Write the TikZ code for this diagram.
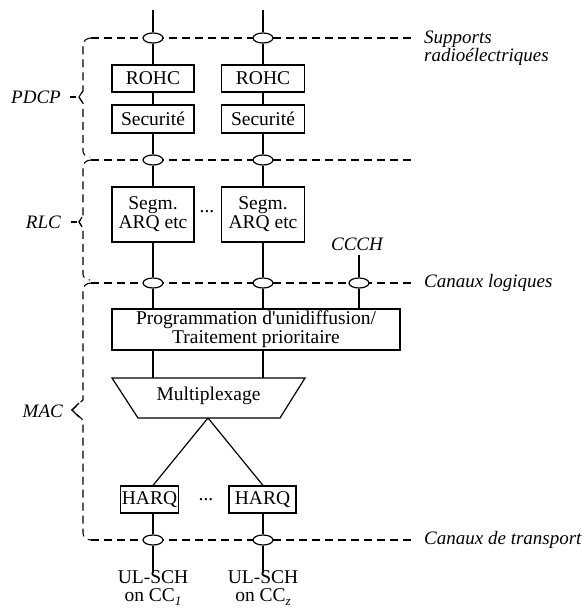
\documentclass[tikz,border=0pt]{standalone}
\usepackage{fontspec}
\setmainfont{Liberation Serif}
\usetikzlibrary{shapes.geometric}
\begin{document}
\begin{tikzpicture}[x=1pt,y=-1pt,
  ln/.style={line width=1.2pt},
  tip/.style={line width=1.1pt},
  blk/.style={draw,line width=1.2pt,fill=white,inner sep=0pt,align=center,font=\fontsize{19.5}{19}\selectfont},
  port/.style={draw,ellipse,line width=1.2pt,fill=white,minimum width=20pt,minimum height=10pt,inner sep=0pt},
  dsh/.style={line width=1.1pt,dash pattern=on 8pt off 5pt},
  lab/.style={font=\fontsize{19}{18}\selectfont\itshape,inner sep=0pt,align=left},
  txt/.style={font=\fontsize{19.5}{18}\selectfont,inner sep=0pt,align=center}]
\useasboundingbox (0,0) rectangle (581,610);

% dashed layer lines
\coordinate (d1s) at (91,38);  \coordinate (d1e) at (415,38);
\coordinate (d2s) at (91,160); \coordinate (d2e) at (415,160);
\coordinate (d3s) at (91,283); \coordinate (d3e) at (415,283);
\coordinate (d4s) at (91,540); \coordinate (d4e) at (415,540);
\draw[dsh] (d1s) -- (d1e);
\draw[dsh] (d2s) -- (d2e);
\draw[dsh] (d3s) -- (d3e);
\draw[dsh] (d4s) -- (d4e);

% braces
\draw[dsh] (d1s) to[out=180,in=90] (83,45) -- (83,91) -- (79,97) -- (83,103) -- (83,151) to[out=-90,in=180] (90,157);
\draw[dsh] (d2s) to[out=180,in=90] (83,167) -- (83,216) -- (79,222) -- (83,228) -- (83,274) to[out=-90,in=180] (90,280);
\draw[dsh] (d3s) to[out=180,in=90] (83,290) -- (83,400) -- (72,410) -- (83,420) -- (83,533) to[out=-90,in=180] (d4s);
\draw[tip] (82,92) -- (79,97) -- (82,102);
\draw[tip] (82,217) -- (79,222) -- (82,227);
\draw[tip] (79,403) -- (72,410) -- (79,417);

% left labels
\node[lab,anchor=east] (lp) at (61,97) {PDCP};
\node[lab,anchor=east] (lr) at (61,222) {RLC};
\node[lab,anchor=east] (lm) at (63,411) {MAC};
\draw[ln] ([xshift=9pt]lp.east) -- ([xshift=15pt]lp.east);
\draw[ln] ([xshift=10pt]lr.east) -- ([xshift=16pt]lr.east);

% right labels
\node[lab,anchor=west] (sr) at (424,48) {Supports\\radioélectriques};
\node[lab,anchor=west] (cl) at (424,283) {Canaux logiques};
\node[lab,anchor=west] (ct) at (424,540) {Canaux de transport};

% ports
\node[port] (e1a) at (153,38) {};
\node[port] (e1b) at (263,38) {};
\node[port] (e2a) at (153,160) {};
\node[port] (e2b) at (263,160) {};
\node[port] (e3a) at (153,283) {};
\node[port] (e3b) at (263,283) {};
\node[port] (e3c) at (359,283) {};
\node[port] (e4a) at (153,540) {};
\node[port] (e4b) at (263,540) {};

% blocks
\node[blk,minimum width=82pt,minimum height=27pt] (r1) at (153,78.5) {ROHC};
\node[blk,minimum width=83pt,minimum height=27pt] (r2) at (263,78.5) {ROHC};
\node[blk,minimum width=82pt,minimum height=28pt] (s1) at (153,119) {Securité};
\node[blk,minimum width=83pt,minimum height=28pt] (s2) at (263,119) {Securité};
\node[blk,minimum width=82pt,minimum height=55pt] (g1) at (153,214.5) {Segm.\\ARQ etc};
\node[blk,minimum width=83pt,minimum height=55pt] (g2) at (263,214.5) {Segm.\\ARQ etc};
\node[txt] (dots1) at (207,212) {...};
\node[blk,minimum width=288pt,minimum height=41pt] (p) at (256,329.5) {Programmation d\textquotesingle unidiffusion/\\Traitement prioritaire};

% multiplexer trapezoid
\coordinate (tl) at (112,378); \coordinate (tr) at (305,378);
\coordinate (br) at (280,418); \coordinate (bl) at (138,418);
\coordinate (mb) at (208,418);
\draw[ln,fill=white] (tl) -- (tr) -- (br) -- (bl) -- cycle;
\node[txt] (mx) at (208.5,396) {Multiplexage};

\node[blk,minimum width=58pt,minimum height=27pt] (h1) at (149.5,499.5) {HARQ};
\node[blk,minimum width=67pt,minimum height=27pt] (h2) at (262.5,499.5) {HARQ};
\node[txt] (dots2) at (206,500) {...};

% CCCH
\node[lab,anchor=south] (cc) at (357,251) {CCCH};
\coordinate (cct) at (359,255);

% top inputs, bottom outputs
\coordinate (t1) at (153,10); \coordinate (t2) at (263,10);
\coordinate (b1) at (153,573); \coordinate (b2) at (263,573);

% connectors
\draw[ln] (t1) -- (e1a); \draw[ln] (t2) -- (e1b);
\draw[ln] (e1a) -- (r1); \draw[ln] (e1b) -- (r2);
\draw[ln] (r1) -- (s1); \draw[ln] (r2) -- (s2);
\draw[ln] (s1) -- (e2a); \draw[ln] (s2) -- (e2b);
\draw[ln] (e2a) -- (g1); \draw[ln] (e2b) -- (g2);
\draw[ln] (g1) -- (e3a); \draw[ln] (g2) -- (e3b);
\draw[ln] (e3a) -- (e3a |- p.north); \draw[ln] (e3b) -- (e3b |- p.north);
\draw[ln] (cct) -- (e3c); \draw[ln] (e3c) -- (e3c |- p.north);
\draw[ln] (e3a |- p.south) -- (e3a |- tl); \draw[ln] (e3b |- p.south) -- (e3b |- tl);
\draw[ln] (mb) -- (e4a |- h1.north); \draw[ln] (mb) -- (e4b |- h2.north);
\draw[ln] (e4a |- h1.south) -- (e4a); \draw[ln] (e4b |- h2.south) -- (e4b);
\draw[ln] (e4a) -- (b1); \draw[ln] (e4b) -- (b2);

% channel labels
\node[txt,anchor=north] (u1) at (153,570) {UL-SCH\\on CC\raisebox{-4pt}{\fontsize{13}{13}\selectfont\itshape 1}};
\node[txt,anchor=north] (u2) at (263,570) {UL-SCH\\on CC\raisebox{-4pt}{\fontsize{13}{13}\selectfont\itshape z}};
\end{tikzpicture}
\end{document}
